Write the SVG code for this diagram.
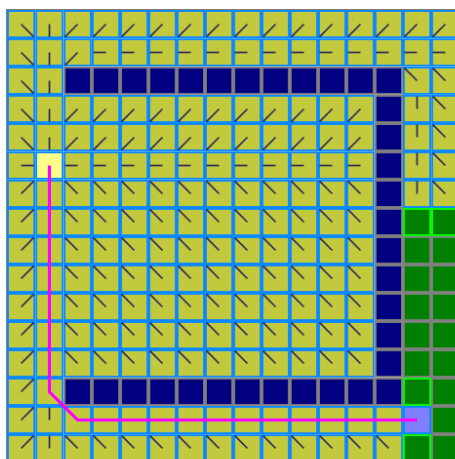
<svg xmlns="http://www.w3.org/2000/svg" width="455" height="459" viewBox="0 0 455 459">
<style>
.cy{fill:#c3c93d;stroke:#0a88ff;stroke-width:.066}
.cw{fill:#000080;stroke:#808080;stroke-width:.066}
.cg{fill:#008000;stroke:#808080;stroke-width:.066}
.cl{fill:#008000;stroke:#00ff00;stroke-width:.066}
.cs{fill:#ffff88;stroke:#0a88ff;stroke-width:.066}
.ct{fill:#8080ff;stroke:#0a88ff;stroke-width:.066}
.ar{stroke:#2c2c55;stroke-width:.06;fill:none}
.path{fill:none;stroke:#ff00ff;stroke-width:.11;stroke-linejoin:miter}
</style>
<defs>
<pattern id="pY" patternUnits="userSpaceOnUse" width="1" height="1"><rect class="cy" x=".033" y=".033" width=".934" height=".934"/></pattern>
<pattern id="pW" patternUnits="userSpaceOnUse" width="1" height="1"><rect class="cw" x=".033" y=".033" width=".934" height=".934"/></pattern>
<pattern id="pG" patternUnits="userSpaceOnUse" width="1" height="1"><rect class="cg" x=".033" y=".033" width=".934" height=".934"/></pattern>
<pattern id="pDR" patternUnits="userSpaceOnUse" width="1" height="1"><rect class="cy" x=".033" y=".033" width=".934" height=".934"/><line class="ar" x1=".5" y1=".5" x2=".95" y2=".95"/></pattern>
<pattern id="pD" patternUnits="userSpaceOnUse" width="1" height="1"><rect class="cy" x=".033" y=".033" width=".934" height=".934"/><line class="ar" x1=".5" y1=".5" x2=".5" y2=".95"/></pattern>
<pattern id="pDL" patternUnits="userSpaceOnUse" width="1" height="1"><rect class="cy" x=".033" y=".033" width=".934" height=".934"/><line class="ar" x1=".5" y1=".5" x2=".05" y2=".95"/></pattern>
<pattern id="pL" patternUnits="userSpaceOnUse" width="1" height="1"><rect class="cy" x=".033" y=".033" width=".934" height=".934"/><line class="ar" x1=".5" y1=".5" x2=".05" y2=".5"/></pattern>
<pattern id="pR" patternUnits="userSpaceOnUse" width="1" height="1"><rect class="cy" x=".033" y=".033" width=".934" height=".934"/><line class="ar" x1=".5" y1=".5" x2=".95" y2=".5"/></pattern>
<pattern id="pU" patternUnits="userSpaceOnUse" width="1" height="1"><rect class="cy" x=".033" y=".033" width=".934" height=".934"/><line class="ar" x1=".5" y1=".5" x2=".5" y2=".05"/></pattern>
<pattern id="pUL" patternUnits="userSpaceOnUse" width="1" height="1"><rect class="cy" x=".033" y=".033" width=".934" height=".934"/><line class="ar" x1=".5" y1=".5" x2=".05" y2=".05"/></pattern>
<pattern id="pUR" patternUnits="userSpaceOnUse" width="1" height="1"><rect class="cy" x=".033" y=".033" width=".934" height=".934"/><line class="ar" x1=".5" y1=".5" x2=".95" y2=".05"/></pattern>
</defs>
<rect width="455" height="459" fill="#ffffff"/>
<rect x="6.5" y="9.5" width="460" height="460" fill="none" stroke="#808080" stroke-width="1"/>
<g id="grid" transform="translate(7,10) scale(28.28)">
<g id="cells">
<rect x="0" y="0" width="1" height="5" fill="url(#pDR)"/>
<rect x="1" y="0" width="1" height="5" fill="url(#pD)"/>
<rect x="2" y="0" width="14" height="1" fill="url(#pDL)"/>
<rect x="2" y="1" width="1" height="1" fill="url(#pDL)"/>
<rect x="2" y="3" width="11" height="2" fill="url(#pDL)"/>
<rect x="3" y="1" width="13" height="1" fill="url(#pL)"/>
<rect x="2" y="5" width="11" height="1" fill="url(#pL)"/>
<rect x="14" y="2" width="2" height="1" fill="url(#pUL)"/>
<rect x="15" y="3" width="1" height="4" fill="url(#pUL)"/>
<rect x="2" y="6" width="11" height="7" fill="url(#pUL)"/>
<rect x="2" y="15" width="12" height="1" fill="url(#pUL)"/>
<rect x="14" y="3" width="1" height="4" fill="url(#pU)"/>
<rect x="1" y="14" width="1" height="2" fill="url(#pU)"/>
<rect x="0" y="5" width="1" height="1" fill="url(#pR)"/>
<rect x="0" y="6" width="1" height="10" fill="url(#pUR)"/>
<rect x="1" y="6" width="1" height="8" fill="url(#pY)"/>
<rect x="2" y="14" width="12" height="1" fill="url(#pY)"/>
<rect x="2" y="2" width="12" height="1" fill="url(#pW)"/>
<rect x="13" y="3" width="1" height="10" fill="url(#pW)"/>
<rect x="2" y="13" width="12" height="1" fill="url(#pW)"/>
<rect x="14" y="7" width="2" height="9" fill="url(#pG)"/>
<rect class="cl" x="14.033" y="7.033" width=".934" height=".934"/>
<rect class="cl" x="15.033" y="7.033" width=".934" height=".934"/>
<rect class="cl" x="14.033" y="13.033" width=".934" height=".934"/>
<rect class="cl" x="14.033" y="15.033" width=".934" height=".934"/>
</g>
<g id="start"><rect class="cs" x="1.033" y="5.033" width=".934" height=".934"/></g>
<g id="goal"><rect class="ct" x="14.033" y="14.033" width=".934" height=".934"/></g>
<g id="connectors">
<polyline class="path" points="1.5,5.5 1.5,13.5 2.5,14.5 14.5,14.5"/>
</g>
</g>
</svg>
